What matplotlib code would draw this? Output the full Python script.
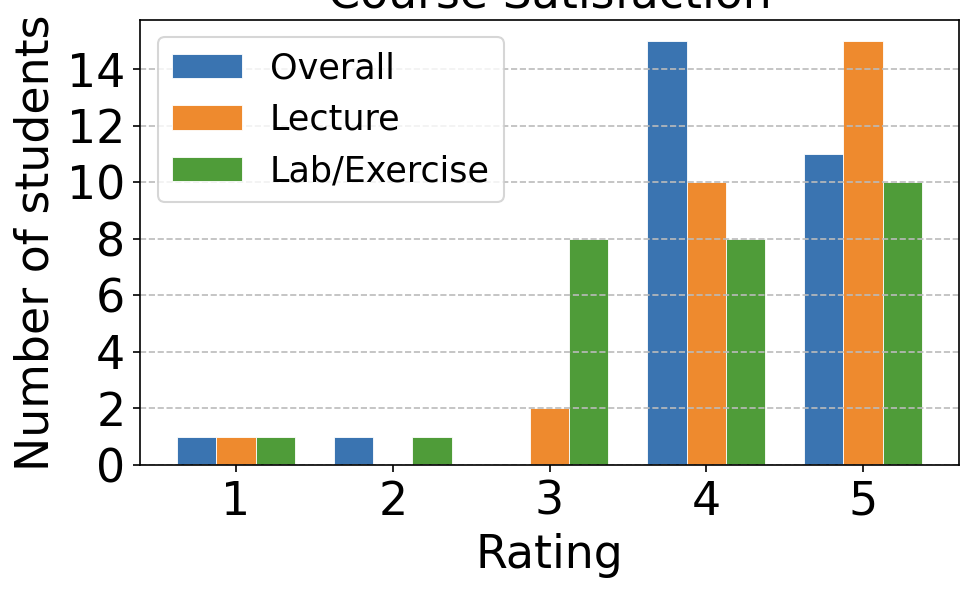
import numpy as np
import matplotlib
matplotlib.use("Agg")
import matplotlib.pyplot as plt

ratings = [1, 2, 3, 4, 5]
overall = [1, 1, 0, 15, 11]
lecture = [1, 0, 2, 10, 15]
lab = [1, 1, 8, 8, 10]
labels = ['Overall', 'Lecture', 'Lab/Exercise']
colors = ['#3a74b1', '#ee8a2e', '#4f9c39']

fig = plt.figure(figsize=(973/150, 591/150), dpi=150)
ax = fig.add_axes([0.1439, 0.2132, 0.9856-0.1439, 0.9662-0.2132])

x = np.array(ratings)
w = 0.25
for i, (vals, lab_name) in enumerate(zip([overall, lecture, lab], labels)):
    ax.bar(x + (i-1)*w, vals, width=w, color=colors[i], label=lab_name,
           edgecolor='white', linewidth=0.4)

ax.grid(axis='y', linestyle='--', color='#bbbbbb', linewidth=0.8)
ax.set_xticks(ratings)
ax.set_yticks(range(0, 16, 2))
ax.tick_params(labelsize=22)
ax.set_xlabel('Rating', fontsize=22)
ax.set_ylabel('Number of students', fontsize=22)
ax.set_title('Course Satisfaction', fontsize=22)
ax.legend(loc='upper left', fontsize=16.8)

fig.savefig('out.png', dpi=150)
